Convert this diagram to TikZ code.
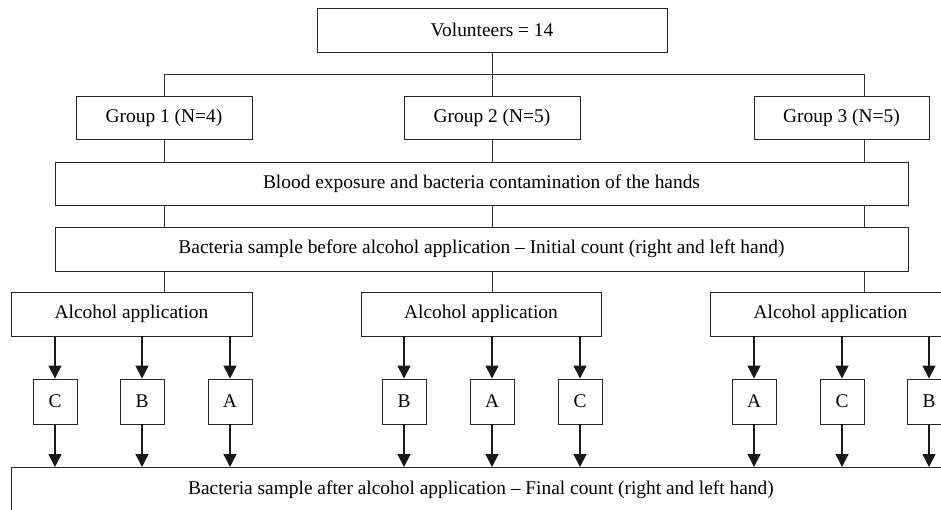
\documentclass[tikz,border=0pt]{standalone}
\usepackage{fontspec}
\setmainfont{Liberation Serif}
\usetikzlibrary{arrows.meta}
\begin{document}
\begin{tikzpicture}[x=1pt,y=-1pt,
  box/.style={draw=black!85, line width=0.9pt, inner sep=0pt, font=\fontsize{19.4}{23}\selectfont},
  small/.style={box, minimum width=44pt, minimum height=45pt},
  link/.style={draw=black!80, line width=0.9pt},
  arr/.style={draw=black!90, line width=1.5pt, -{Triangle[width=13pt,length=13pt]}}]
\useasboundingbox (0,0) rectangle (941,510);
\clip (0,0) rectangle (941,510);
\node[box, minimum width=350pt, minimum height=44pt] (vol) at (492,30) {Volunteers = 14};
\node[box, minimum width=176pt, minimum height=43pt] (g1) at (164,117.5) {Group 1 (N=4)};
\node[box, minimum width=176pt, minimum height=43pt] (g2) at (492,117.5) {Group 2 (N=5)};
\node[box, minimum width=175pt, minimum height=43pt] (g3) at (841.5,117.5) {Group 3 (N=5)};
\node[box, minimum width=853pt, minimum height=43pt] (blood) at (481.5,183.5) {Blood exposure and bacteria contamination of the hands};
\node[box, minimum width=853pt, minimum height=44pt] (before) at (481.5,249) {Bacteria sample before alcohol application -- Initial count (right and left hand)};
\node[box, minimum width=241pt, minimum height=44pt] (alc1) at (131.5,314) {Alcohol application};
\node[box, minimum width=240pt, minimum height=44pt] (alc2) at (481,314) {Alcohol application};
\node[box, minimum width=241pt, minimum height=44pt] (alc3) at (830.5,314) {Alcohol application};
\node[small] (s1) at (55,401.5) {C};
\node[small] (s2) at (142,401.5) {B};
\node[small] (s3) at (230,401.5) {A};
\node[small] (s4) at (404,401.5) {B};
\node[small] (s5) at (492,401.5) {A};
\node[small] (s6) at (580,401.5) {C};
\node[small] (s7) at (754,401.5) {A};
\node[small] (s8) at (842,401.5) {C};
\node[small] (s9) at (929,401.5) {B};
\node[box, anchor=north west, minimum width=939pt, text height=27pt, text depth=40pt] (after) at (11,467) {Bacteria sample after alcohol application -- Final count (right and left hand)};
% tree connectors
\coordinate (j1) at (164,74);
\coordinate (j3) at (864,74);
\draw[link] (vol.south) -- (g2.north);
\draw[link] (g1.north) -- (j1) -- (j3) -- (j3 |- g3.north);
\draw[link] (g1.south) -- (g1.south |- blood.north);
\draw[link] (g2.south) -- (g2.south |- blood.north);
\draw[link] (j3 |- g3.south) -- (j3 |- blood.north);
\draw[link] (j1 |- blood.south) -- (j1 |- before.north);
\draw[link] (g2.south |- blood.south) -- (g2.south |- before.north);
\draw[link] (j3 |- blood.south) -- (j3 |- before.north);
\draw[link] (j1 |- before.south) -- (j1 |- alc1.north);
\draw[link] (g2.south |- before.south) -- (g2.south |- alc2.north);
\draw[link] (j3 |- before.south) -- (j3 |- alc3.north);
% arrows
\foreach \s/\a in {s1/alc1,s2/alc1,s3/alc1,s4/alc2,s5/alc2,s6/alc2,s7/alc3,s8/alc3,s9/alc3}{
  \draw[arr] (\s.north |- \a.south) -- (\s.north);
  \draw[arr] (\s.south) -- (\s.south |- after.north);
}
\end{tikzpicture}
\end{document}
